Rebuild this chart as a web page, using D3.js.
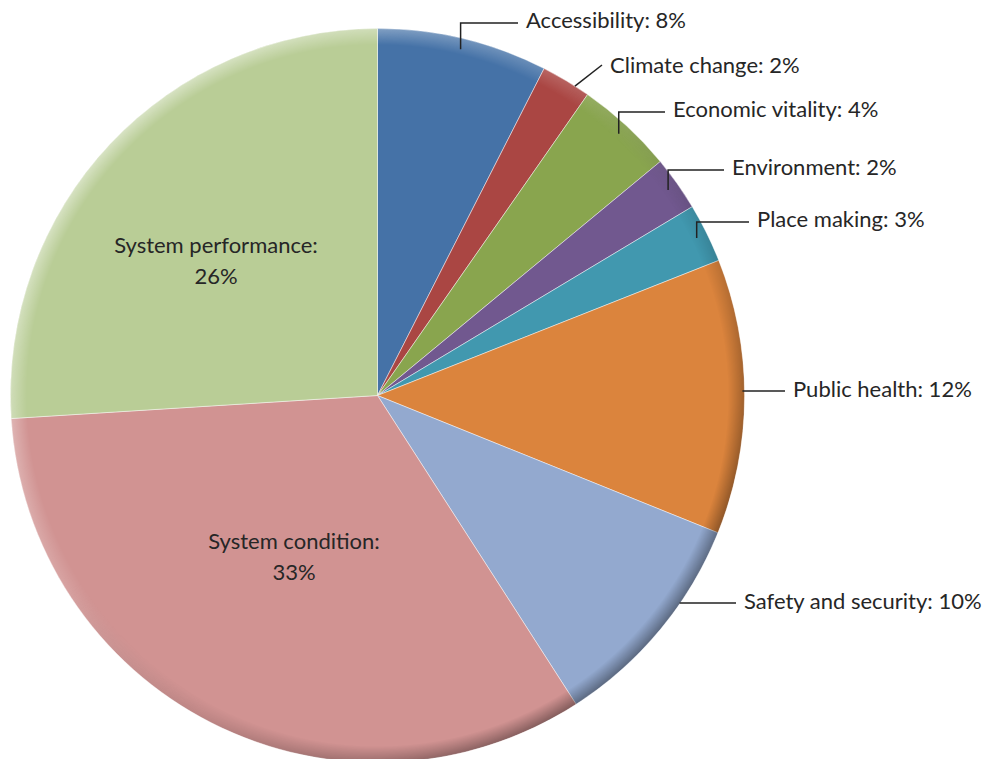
<!DOCTYPE html>
<html>
<head>
<meta charset="utf-8">
<script src="https://cdn.jsdelivr.net/npm/d3@7"></script>
<style>
  body { margin: 0; background: #fff; }
  svg { display: block; }
  text { font-family: Lato, "Open Sans", sans-serif; font-size: 22px; fill: #262626; }
</style>
</head>
<body>
<script>
// slices, clockwise from 12 o'clock
const categories = ["Accessibility", "Climate change", "Economic vitality", "Environment",
  "Place making", "Public health", "Safety and security", "System condition", "System performance"];
// shares
const shares = [7.5, 2.2, 4.3, 2.4, 2.6, 12.1, 9.8, 33.1, 26.0];
// percentages as printed on the labels
const percentLabels = ["8%", "2%", "4%", "2%", "3%", "12%", "10%", "33%", "26%"];
const colors = ["#4572a7", "#aa4643", "#89a54e", "#71588f", "#4198af",
  "#db843d", "#93a9cf", "#d19392", "#b9cd96"];

const width = 989, height = 759;
const cx = 377.5, cy = 395.5, radius = 367;

// where each label sits (left x / centre y for outside ones, centre for inside ones)
const labelLayout = [
  { x: 526, y: 20, leader: "elbow" },
  { x: 610, y: 65, leader: "diag" },
  { x: 673, y: 109, leader: "elbow" },
  { x: 732, y: 167, leader: "elbow" },
  { x: 757, y: 219, leader: "elbow" },
  { x: 793, y: 389, leader: "flat" },
  { x: 744, y: 601, leader: "flat" },
  { x: 294, y: 557, inside: true },
  { x: 216, y: 261, inside: true }
];

const data = categories.map((c, i) => ({
  name: c, value: shares[i], pct: percentLabels[i], color: colors[i], layout: labelLayout[i]
}));

const svg = d3.select("body").append("svg")
  .attr("width", width)
  .attr("height", height);

const defs = svg.append("defs");

// rim bevel: light on the upper left, dark on the lower right
const rimMask = defs.append("radialGradient").attr("id", "rimMask");
rimMask.append("stop").attr("offset", "0.955").attr("stop-color", "#000");
rimMask.append("stop").attr("offset", "1").attr("stop-color", "#fff");
defs.append("mask").attr("id", "rim")
  .append("circle").attr("cx", cx).attr("cy", cy).attr("r", radius)
  .attr("fill", "url(#rimMask)");

const shade = defs.append("linearGradient").attr("id", "shade")
  .attr("x1", 0).attr("y1", 0).attr("x2", 1).attr("y2", 1);
shade.append("stop").attr("offset", "0").attr("stop-color", "#fff").attr("stop-opacity", 0.6);
shade.append("stop").attr("offset", "0.42").attr("stop-color", "#fff").attr("stop-opacity", 0.15);
shade.append("stop").attr("offset", "0.6").attr("stop-color", "#000").attr("stop-opacity", 0.1);
shade.append("stop").attr("offset", "1").attr("stop-color", "#000").attr("stop-opacity", 0.55);

const pie = d3.pie().sort(null).value(d => d.value);
const arc = d3.arc().innerRadius(0).outerRadius(radius);
const arcs = pie(data);

const g = svg.append("g").attr("transform", `translate(${cx},${cy})`);

g.selectAll("path.slice")
  .data(arcs)
  .enter()
  .append("path")
  .attr("class", "slice")
  .attr("d", arc)
  .attr("fill", d => d.data.color)
  .attr("stroke", "rgba(255,255,255,0.45)")
  .attr("stroke-width", 1);

svg.append("circle")
  .attr("cx", cx).attr("cy", cy).attr("r", radius)
  .attr("fill", "url(#shade)")
  .attr("mask", "url(#rim)");

// leader lines
const gap = 8;
const outside = arcs.filter(d => !d.data.layout.inside);

function leaderPoints(d) {
  const L = d.data.layout;
  const mid = (d.startAngle + d.endAngle) / 2;
  if (L.leader === "flat") {
    const dy = L.y - cy;
    const ex = cx + Math.sqrt(radius * radius - dy * dy);
    return [[ex - 2, L.y + 2], [L.x - gap, L.y + 2]];
  }
  if (L.leader === "diag") {
    const a = d.startAngle + (d.endAngle - d.startAngle) * 0.7;
    return [[cx + radius * Math.sin(a), cy - radius * Math.cos(a)], [L.x - gap, L.y]];
  }
  const r = radius * 0.97;
  const px = cx + r * Math.sin(mid), py = cy - r * Math.cos(mid);
  return [[px, py], [px, L.y + 3], [L.x - gap, L.y + 3]];
}

svg.selectAll("polyline.leader")
  .data(outside)
  .enter()
  .append("polyline")
  .attr("class", "leader")
  .attr("points", d => leaderPoints(d).map(p => p.join(",")).join(" "))
  .attr("fill", "none")
  .attr("stroke", "#222")
  .attr("stroke-width", 1.5);

svg.selectAll("text.outlabel")
  .data(outside)
  .enter()
  .append("text")
  .attr("class", "outlabel")
  .attr("x", d => d.data.layout.x)
  .attr("y", d => d.data.layout.y)
  .attr("dy", "0.35em")
  .text(d => `${d.data.name}: ${d.data.pct}`);

const inLabels = svg.selectAll("text.inlabel")
  .data(arcs.filter(d => d.data.layout.inside))
  .enter()
  .append("text")
  .attr("class", "inlabel")
  .attr("text-anchor", "middle")
  .attr("x", d => d.data.layout.x)
  .attr("y", d => d.data.layout.y);

inLabels.append("tspan")
  .attr("x", d => d.data.layout.x)
  .attr("dy", "-0.35em")
  .text(d => d.data.name + ":");
inLabels.append("tspan")
  .attr("x", d => d.data.layout.x)
  .attr("dy", "1.4em")
  .text(d => d.data.pct);
</script>
</body>
</html>
